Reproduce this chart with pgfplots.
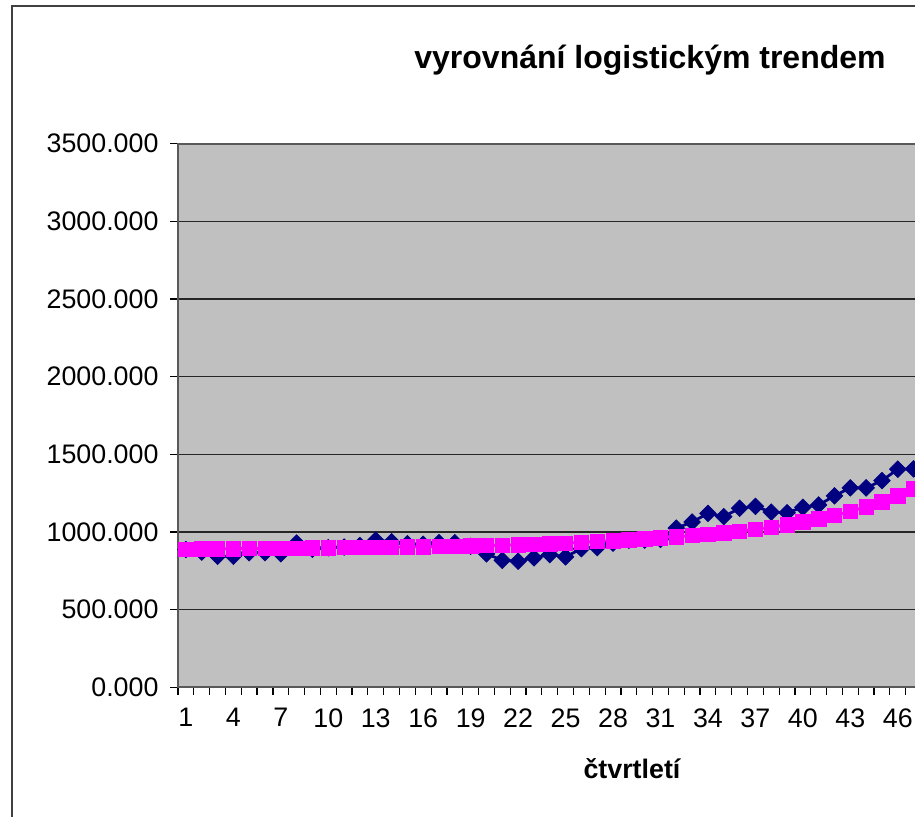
\documentclass[border=0pt]{standalone}
\usepackage{pgfplots}
\pgfplotsset{compat=1.18}
\usepackage{pgfplotstable}
\usepackage{fontspec}
\setmainfont{Liberation Sans}
\definecolor{navyblue}{HTML}{000080}
\definecolor{plotgray}{HTML}{C0C0C0}
\definecolor{trendmag}{HTML}{FF00FF}

\pgfplotstableread{
q val
1 887
2 871
3 844
4 844
5 867
6 867
7 860
8 929
9 889
10 899
11 903
12 913
13 948
14 937
15 925
16 921
17 931
18 931
19 908
20 860
21 818
22 812
23 834
24 855
25 840
26 893
27 900
28 928
29 947
30 948
31 952
32 1025
33 1064
34 1120
35 1099
36 1153
37 1165
38 1128
39 1124
40 1159
41 1174
42 1233
43 1284
44 1284
45 1331
46 1404
47 1406
}\dataactual

\pgfplotstableread{
q val
1 890
2 891
3 892
4 893
5 894
6 895
7 896
8 897
9 898
10 899
11 900
12 901
13 902
14 903
15 905
16 906
17 908
18 909
19 911
20 913
21 915
22 918
23 921
24 925
25 929
26 934
27 939
28 944
29 950
30 956
31 962
32 969
33 977
34 985
35 994
36 1005
37 1017
38 1031
39 1047
40 1065
41 1085
42 1107
43 1133
44 1162
45 1195
46 1233
47 1279
}\datatrend

\begin{document}
\begin{tikzpicture}
\useasboundingbox (0,0) rectangle (457.5pt,408pt);
\clip (0,0) rectangle (457.5pt,408pt);
\fill[white] (0,0) rectangle (457.5pt,408pt);
\draw[black!75, line width=1pt] (6pt,-20pt) rectangle (520pt,405pt);
\begin{axis}[
  at={(89pt,64.3pt)}, anchor=south west,
  scale only axis, width=450.85pt, height=271.95pt,
  xmin=0.5, xmax=57.5, ymin=0, ymax=3500,
  axis background/.style={fill=plotgray},
  axis line style={draw=black!65, line width=1pt},
  ytick={0,500,...,3500},
  yticklabels={0.000,500.000,1000.000,1500.000,2000.000,2500.000,3000.000,3500.000},
  yticklabel style={xshift=-2.5pt},
  ymajorgrids, grid style={black!85, line width=0.6pt},
  xtick={0.5,1.5,...,46.5}, xticklabels={},
  extra x ticks={1,4,...,46},
  extra x tick labels={1,4,7,10,13,16,19,22,25,28,31,34,37,40,43,46},
  extra x tick style={major tick length=0pt, grid=none, xticklabel style={yshift=-7pt}},
  tick align=outside, major tick length=3.75pt,
  xtick pos=bottom, ytick pos=left,
  tick style={black, line width=0.6pt},
  tick label style={font=\fontsize{13.4}{16}\selectfont},
  title={vyrovnání logistickým trendem},
  title style={at={(axis description cs:0.5235,1.1167)}, anchor=base, font=\bfseries\fontsize{16}{19}\selectfont},
  xlabel={čtvrtletí},
  xlabel style={at={(axis description cs:0.5035,-0.1684)}, anchor=base, font=\bfseries\fontsize{13.4}{16}\selectfont},
]
\addplot[navyblue, line width=1.4pt, mark=square*, mark size=2.95pt, mark options={rotate=45, solid, line width=0.3pt}] table[x=q, y=val] {\dataactual};
\addplot[trendmag, line width=1.4pt, mark=square*, mark size=3.6pt, mark options={solid, line width=0.3pt}] table[x=q, y=val] {\datatrend};
\end{axis}
\end{tikzpicture}
\end{document}
